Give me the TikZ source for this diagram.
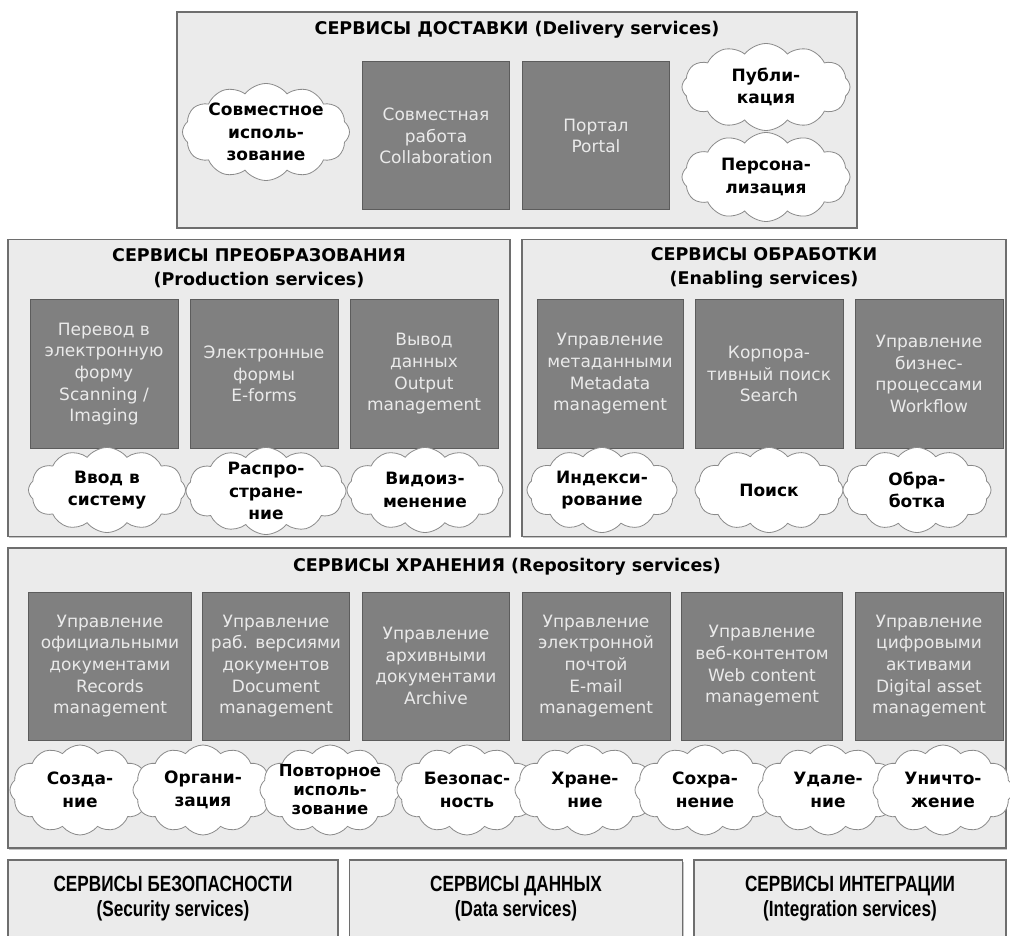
\documentclass[tikz,border=0pt]{standalone}
\usepackage{fontspec}
\setmainfont{DejaVu Sans}
\newfontfamily\narrowfont{Liberation Sans}[FakeStretch=0.78]
\usepackage{tikz}
\usetikzlibrary{shapes.symbols, shadows, positioning}
\definecolor{PanelGray}{HTML}{EBEBEB}
\definecolor{PanelEdge}{HTML}{6E6E6E}
\definecolor{BlockGray}{HTML}{808080}
\definecolor{BlockEdge}{HTML}{5C5C5C}
\definecolor{BlockText}{HTML}{EAEAEA}
\definecolor{CloudEdge}{HTML}{8A8A8A}

\begin{document}
\begin{tikzpicture}[x=1pt, y=-1pt,
    panel/.style={rectangle, fill=PanelGray, draw=PanelEdge, line width=1.5pt,
                  drop shadow={shadow xshift=1pt, shadow yshift=-1.5pt, fill=black!45}},
    block/.style={rectangle, fill=BlockGray, draw=BlockEdge, line width=1pt,
                  minimum height=148pt, text=BlockText, align=center,
                  font=\fontsize{17}{21.7}\selectfont},
    puff/.style={cloud, cloud puffs=12, cloud puff arc=105, cloud ignores aspect,
                 fill=white, draw=CloudEdge, line width=0.8pt, align=center,
                 inner xsep=-14pt, inner ysep=-8pt,
                 font=\fontsize{17}{22.5}\selectfont\bfseries},
    heading/.style={align=center, font=\fontsize{17.5}{24}\selectfont\bfseries},
    lowhead/.style={align=center, font=\fontsize{22}{25}\selectfont\narrowfont\bfseries}]
    \useasboundingbox (0,0) rectangle (1010,936);

    % Delivery services
    \node[panel, minimum width=680pt, minimum height=216pt] (deliv) at (517,120) {};
    \node[heading] (delivhead) at (517,30) {СЕРВИСЫ ДОСТАВКИ (Delivery services)};
    \node[block, minimum width=147pt] (collab) at (436,136)
        {Совместная\\работа\\Collaboration};
    \node[block, minimum width=147pt] (portal) at (596,136) {Портал\\Portal};
    \node[puff, minimum width=167pt, minimum height=97pt] (sharing) at (266,132)
        {Совместное\\исполь-\\зование};
    \node[puff, minimum width=168pt, minimum height=87pt] (publ) at (766,87)
        {Публи-\\кация};
    \node[puff, minimum width=168pt, minimum height=89pt] (pers) at (766,177)
        {Персона-\\лизация};

    % Production services
    \node[panel, minimum width=502pt, minimum height=297pt] (prod) at (259,388) {};
    \node[heading] (prodhead) at (259,268)
        {СЕРВИСЫ ПРЕОБРАЗОВАНИЯ\\(Production services)};
    \node[block, minimum width=148pt] (scan) at (104,374)
        {Перевод в\\электронную\\форму\\Scanning /\\Imaging};
    \node[block, minimum width=148pt] (eforms) at (264,374)
        {Электронные\\формы\\E-forms};
    \node[block, minimum width=148pt] (output) at (424,374)
        {Вывод\\данных\\Output\\management};
    \node[puff, minimum width=157pt, minimum height=85pt] (capture) at (107,490)
        {Ввод в\\систему};
    \node[puff, minimum width=160pt, minimum height=87pt] (distr) at (266,491)
        {Распро-\\стране-\\ние};
    \node[puff, minimum width=156pt, minimum height=85pt] (modif) at (425,490)
        {Видоиз-\\менение};

    % Enabling services
    \node[panel, minimum width=484pt, minimum height=297pt] (enab) at (764,388) {};
    \node[heading] (enabhead) at (764,268)
        {СЕРВИСЫ ОБРАБОТКИ\\(Enabling services)};
    \node[block, minimum width=146pt] (meta) at (610,374)
        {Управление\\метаданными\\Metadata\\management};
    \node[block, minimum width=148pt] (search) at (769,374)
        {Корпора-\\тивный поиск\\Search};
    \node[block, minimum width=148pt] (workflow) at (929,374)
        {Управление\\бизнес-\\процессами\\Workflow};
    \node[puff, minimum width=150pt, minimum height=85pt] (index) at (602,490)
        {Индекси-\\рование};
    \node[puff, minimum width=148pt, minimum height=85pt] (find) at (769,490)
        {Поиск};
    \node[puff, minimum width=148pt, minimum height=85pt] (treat) at (917,490)
        {Обра-\\ботка};

    % Repository services
    \node[panel, minimum width=998pt, minimum height=300pt] (repo) at (507,698) {};
    \node[heading] (repohead) at (507,567)
        {СЕРВИСЫ ХРАНЕНИЯ (Repository services)};
    \node[block, minimum width=163pt] (records) at (110,666)
        {Управление\\официальными\\документами\\Records\\management};
    \node[block, minimum width=147pt] (docs) at (276,666)
        {Управление\\раб. версиями\\документов\\Document\\management};
    \node[block, minimum width=147pt] (archive) at (436,666)
        {Управление\\архивными\\документами\\Archive};
    \node[block, minimum width=148pt] (email) at (596,666)
        {Управление\\электронной\\почтой\\E-mail\\management};
    \node[block, minimum width=161pt] (web) at (762,666)
        {Управление\\веб-контентом\\Web content\\management};
    \node[block, minimum width=148pt] (asset) at (929,666)
        {Управление\\цифровыми\\активами\\Digital asset\\management};
    \node[puff, minimum width=140pt, minimum height=90pt] (create) at (80,790)
        {Созда-\\ние};
    \node[puff, minimum width=140pt, minimum height=90pt] (organize) at (203,790)
        {Органи-\\зация};
    \node[puff, minimum width=140pt, minimum height=90pt,
          font=\fontsize{16.5}{19}\selectfont\bfseries] (reuse) at (330,790)
        {Повторное\\исполь-\\зование};
    \node[puff, minimum width=140pt, minimum height=90pt] (secure) at (467,790)
        {Безопас-\\ность};
    \node[puff, minimum width=140pt, minimum height=90pt] (store) at (585,790)
        {Хране-\\ние};
    \node[puff, minimum width=140pt, minimum height=90pt] (keep) at (705,790)
        {Сохра-\\нение};
    \node[puff, minimum width=140pt, minimum height=90pt] (delete) at (828,790)
        {Удале-\\ние};
    \node[puff, minimum width=140pt, minimum height=90pt] (destroy) at (943,790)
        {Уничто-\\жение};

    % Bottom row
    \node[panel, minimum width=330pt, minimum height=90pt] (security) at (173,905) {};
    \node[lowhead] at (173,899) {СЕРВИСЫ БЕЗОПАСНОСТИ\\(Security services)};
    \node[panel, minimum width=333pt, minimum height=90pt] (data) at (516,905) {};
    \node[lowhead] at (516,899) {СЕРВИСЫ ДАННЫХ\\(Data services)};
    \node[panel, minimum width=312pt, minimum height=90pt] (integr) at (850,905) {};
    \node[lowhead] at (850,899) {СЕРВИСЫ ИНТЕГРАЦИИ\\(Integration services)};
\end{tikzpicture}
\end{document}
